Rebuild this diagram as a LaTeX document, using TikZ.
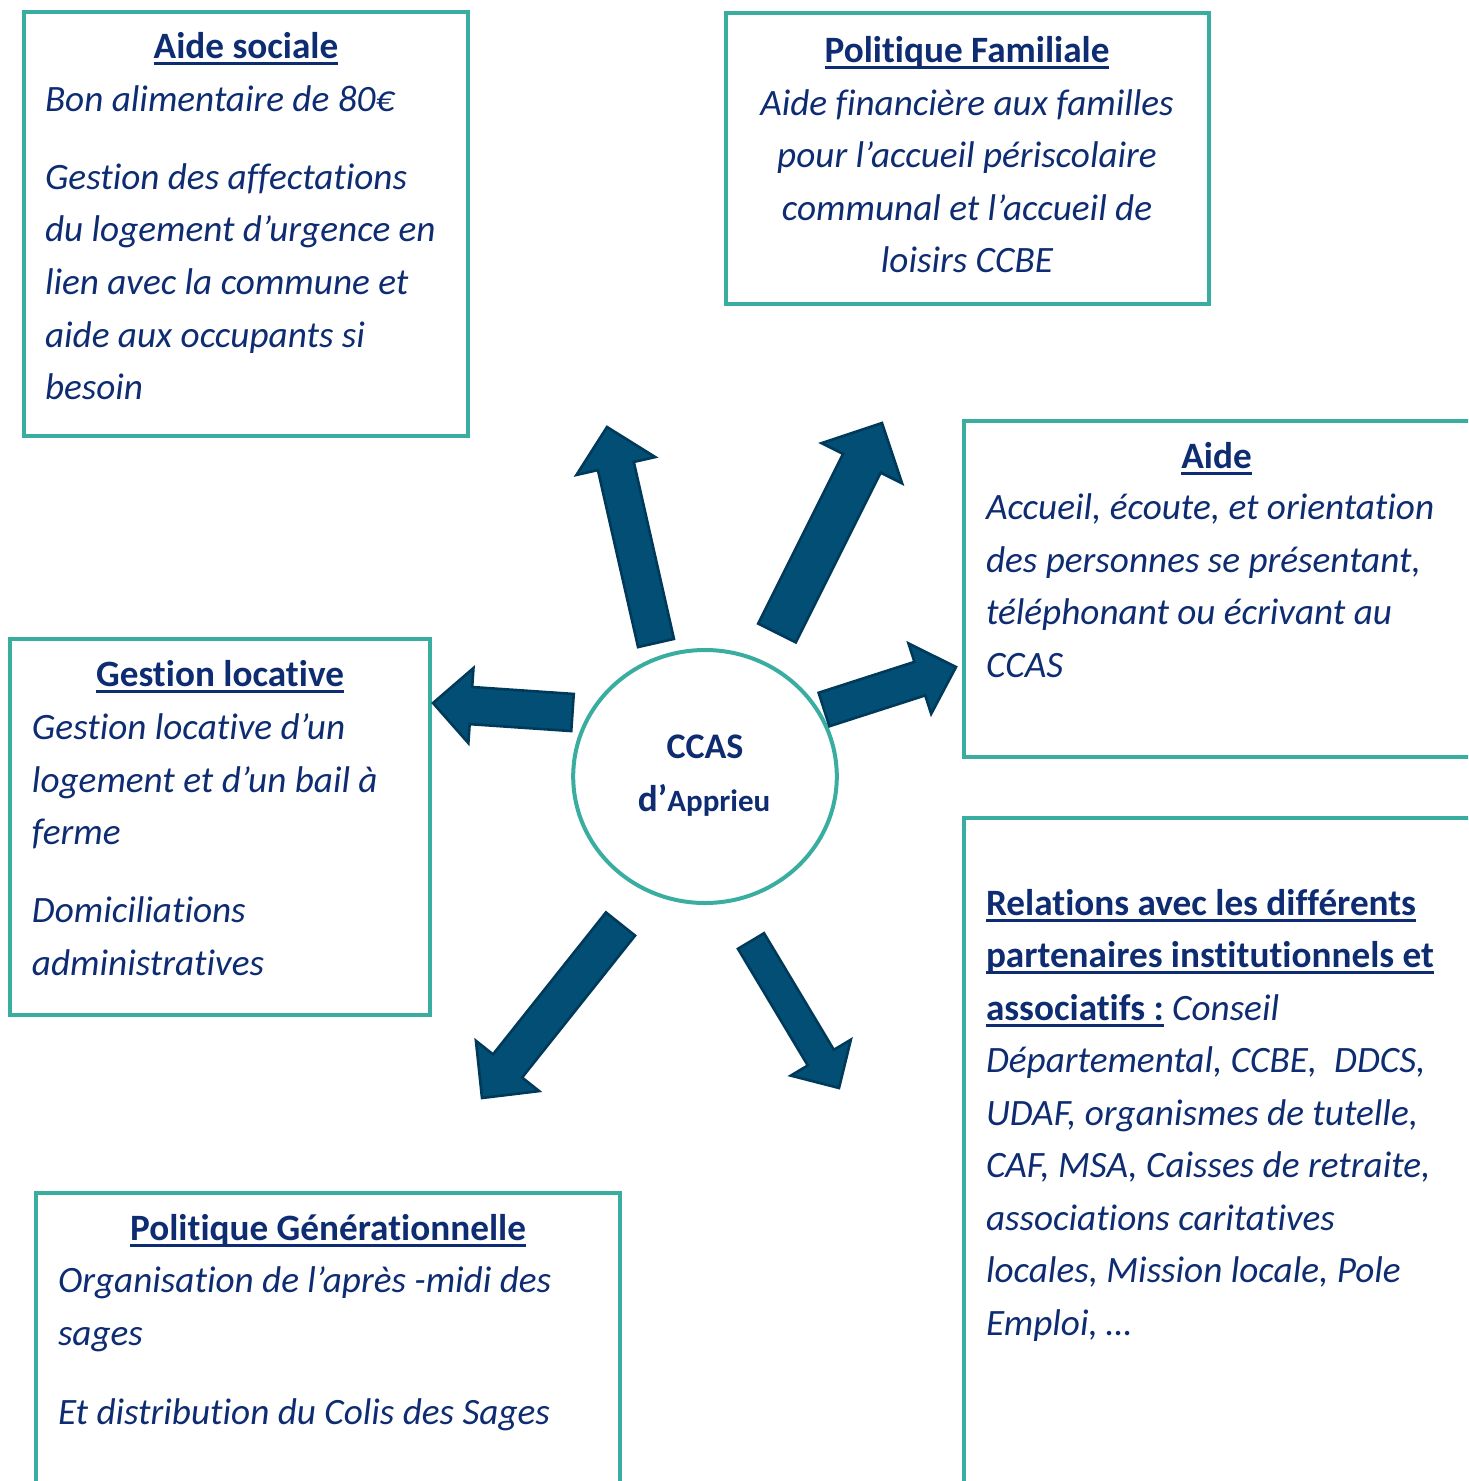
\documentclass[tikz,border=0pt]{standalone}
\usepackage{fontspec}
\setmainfont{Carlito}[RawFeature={-liga;-clig;-calt;-rlig;-dlig}]
\usetikzlibrary{calc,fit,shapes.geometric}
\definecolor{boxteal}{HTML}{3AADA1}
\definecolor{navytext}{HTML}{0E2C72}
\definecolor{arrowfill}{HTML}{024E74}
\definecolor{arrowline}{HTML}{003A5A}
\newcommand\ulin[1]{\setbox0\hbox{#1}\rlap{\rule[-3.25pt]{\wd0}{1.5pt}}\box0\relax}
\newcommand\blockarrow[5]{%
  \coordinate (#1h) at ($(#2)!#5!(#1)$);
  \filldraw[arrowstyle] ($(#1)!#3!90:(#2)$) -- ($(#1h)!#3!-90:(#1)$) -- ($(#1h)!#4!-90:(#1)$) -- (#2)
    -- ($(#1h)!#4!90:(#1)$) -- ($(#1h)!#3!90:(#1)$) -- ($(#1)!#3!-90:(#2)$) -- cycle;}
\tikzset{
  boxframe/.style={draw=boxteal, line width=2.25pt, inner sep=0pt},
  arrowstyle/.style={fill=arrowfill, draw=arrowline, line width=1.3pt, line join=miter},
  txt/.style={inner sep=0pt, outer sep=0pt, text=navytext, font=\fontsize{18.6pt}{26pt}\selectfont\itshape},
  ttl/.style={inner sep=0pt, outer sep=0pt, text=navytext, font=\fontsize{18.6pt}{26pt}\selectfont\bfseries},
}
\begin{document}
\begin{tikzpicture}[x=0.5pt,y=-0.5pt]
\useasboundingbox (0,0) rectangle (1468,1481);
\clip (0,0) rectangle (1468,1481);
\fill[white] (0,0) rectangle (1468,1481);

% frames
\node[boxframe, fit={(24,12)(468,436)}] (bsoc) {};
\node[boxframe, fit={(726,13)(1209,304)}] (bfam) {};
\node[boxframe, fit={(964,421)(1490,757)}] (baide) {};
\node[boxframe, fit={(10,639)(430,1015)}] (bloc) {};
\node[boxframe, fit={(964,818)(1490,1500)}] (brel) {};
\node[boxframe, fit={(36,1193)(620,1500)}] (bgen) {};

% centre
\node[ellipse, draw=boxteal, line width=2pt, minimum width=131.8pt, minimum height=126.5pt, inner sep=0pt] (ccas) at (705,776.5) {};
\node[ttl, anchor=base, font=\fontsize{18pt}{22pt}\selectfont\bfseries] (c1) at (705,758) {CCAS};
\node[ttl, anchor=base] (c2) at (704,811.5) {d’{\fontsize{15.5pt}{20pt}\selectfont Apprieu}};

% arrows
\coordinate (a1) at (656,643);   \coordinate (t1) at (607,427);
\coordinate (a2) at (777,633);   \coordinate (t2) at (882,423);
\coordinate (a3) at (824,709.5); \coordinate (t3) at (956,667);
\coordinate (a4) at (572.5,712.5); \coordinate (t4) at (433,703);
\coordinate (a5) at (620.5,924); \coordinate (t5) at (482,1098);
\coordinate (a6) at (751,941);   \coordinate (t6) at (839,1088);
\blockarrow{a1}{t1}{9.2pt}{20.2pt}{20pt}
\blockarrow{a2}{t2}{10.5pt}{22.5pt}{22.5pt}
\blockarrow{a3}{t3}{8.8pt}{18.5pt}{19pt}
\blockarrow{a4}{t4}{9.3pt}{18.8pt}{19pt}
\blockarrow{a5}{t5}{9.3pt}{20.2pt}{20.5pt}
\blockarrow{a6}{t6}{7.6pt}{17.5pt}{17.7pt}

% Aide sociale
\node[ttl, anchor=base] (s0) at (246,58.5) {\ulin{Aide sociale}};
\node[txt, anchor=base west] (s1) at (45,111.5) {Bon alimentaire de 80€};
\node[txt, anchor=base west] (s2) at (45,189.5) {Gestion des affectations};
\node[txt, anchor=base west] (s3) at (45,242) {du logement d’urgence en};
\node[txt, anchor=base west] (s4) at (45,294.5) {lien avec la commune et};
\node[txt, anchor=base west] (s5) at (45,347) {aide aux occupants si};
\node[txt, anchor=base west] (s6) at (45,399.5) {besoin};

% Politique Familiale
\node[ttl, anchor=base] (f0) at (967,62.5) {\ulin{Politique Familiale}};
\node[txt, anchor=base] (f1) at (967,115.5) {Aide financière aux familles};
\node[txt, anchor=base] (f2) at (967,168) {pour l’accueil périscolaire};
\node[txt, anchor=base] (f3) at (967,220.5) {communal et l’accueil de};
\node[txt, anchor=base] (f4) at (967,273) {loisirs CCBE};

% Aide
\node[ttl, anchor=base] (h0) at (1216.5,468) {\ulin{Aide}};
\node[txt, anchor=base west] (h1) at (986,519.5) {Accueil, écoute, et orientation};
\node[txt, anchor=base west] (h2) at (986,572) {des personnes se présentant,};
\node[txt, anchor=base west] (h3) at (986,624.5) {téléphonant ou écrivant au};
\node[txt, anchor=base west] (h4) at (986,677) {CCAS};

% Gestion locative
\node[ttl, anchor=base] (l0) at (220,686.5) {\ulin{Gestion locative}};
\node[txt, anchor=base west] (l1) at (32,739.5) {Gestion locative d’un};
\node[txt, anchor=base west] (l2) at (32,792) {logement et d’un bail à};
\node[txt, anchor=base west] (l3) at (32,844.5) {ferme};
\node[txt, anchor=base west] (l4) at (32,922.5) {Domiciliations};
\node[txt, anchor=base west] (l5) at (32,975) {administratives};

% Relations
\node[ttl, anchor=base west] (r1) at (986,915) {\ulin{Relations avec les différents}};
\node[ttl, anchor=base west] (r2) at (986,967.5) {\ulin{partenaires institutionnels et}};
\node[ttl, anchor=base west] (r3) at (986,1020) {\ulin{associatifs :}\ {\mdseries\itshape Conseil}};
\node[txt, anchor=base west] (r4) at (986,1072.5) {Départemental, CCBE,\ \ DDCS,};
\node[txt, anchor=base west] (r5) at (986,1125) {UDAF, organismes de tutelle,};
\node[txt, anchor=base west] (r6) at (986,1177.5) {CAF, MSA, Caisses de retraite,};
\node[txt, anchor=base west] (r7) at (986,1230) {associations caritatives};
\node[txt, anchor=base west] (r8) at (986,1282.5) {locales, Mission locale, Pole};
\node[txt, anchor=base west] (r9) at (986,1335) {Emploi, …};

% Politique Generationnelle
\node[ttl, anchor=base] (g0) at (328,1240.5) {\ulin{Politique Générationnelle}};
\node[txt, anchor=base west] (g1) at (58,1292.5) {Organisation de l’après -midi des};
\node[txt, anchor=base west] (g2) at (58,1345.5) {sages};
\node[txt, anchor=base west] (g3) at (58,1424.5) {Et distribution du Colis des Sages};
\end{tikzpicture}
\end{document}
